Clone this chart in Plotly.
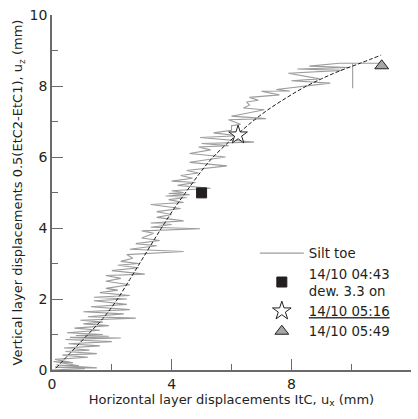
import plotly.graph_objects as go

# Silt toe measured path (horizontal ux, vertical uz), mm
silt_x = [0.00, 1.10, 0.10, 1.50, 0.15, 0.90, 0.05, 0.70, 0.10, 1.20, 0.35, 1.50, 0.45, 1.25, 0.40, 1.60,
          0.55, 2.00, 0.45, 2.30, 0.60, 1.90, 0.80, 1.70, 0.50, 1.60, 0.75, 1.90, 1.05, 1.70, 0.95, 2.80,
          1.20, 2.40, 1.05, 2.60, 1.30, 2.50, 1.40, 2.50, 1.40, 2.60, 1.60, 2.20, 1.80, 2.60, 1.80, 2.30,
          1.80, 3.10, 2.00, 2.90, 2.20, 2.90, 2.30, 2.70, 2.50, 4.40, 2.60, 3.50, 2.80, 3.60, 3.00, 3.40,
          3.00, 4.95, 3.30, 4.00, 3.30, 4.40, 3.50, 4.00, 3.50, 4.30, 3.30, 4.40, 3.90, 4.50, 3.80, 4.60,
          3.90, 4.40, 4.00, 5.30, 4.20, 4.80, 4.00, 4.70, 4.30, 4.90, 4.50, 5.85, 4.60, 5.80, 4.60, 5.30,
          4.90, 5.90, 5.00, 6.75, 4.95, 6.20, 5.40, 6.00, 6.00, 6.30, 5.90, 7.15, 6.00, 7.10, 6.40, 6.60,
          6.50, 6.90, 6.60, 7.60, 7.00, 7.95, 7.50, 9.30, 8.00, 8.95, 7.90, 9.70, 8.20, 9.95, 8.60, 9.60,
          10.05, 10.05, 10.05, 11.00]
silt_y = [0.00, 0.04, 0.08, 0.06, 0.14, 0.12, 0.24, 0.20, 0.30, 0.36, 0.42, 0.46, 0.52, 0.56, 0.62, 0.68,
          0.74, 0.80, 0.86, 0.90, 0.92, 0.95, 0.97, 1.00, 1.05, 1.12, 1.18, 1.25, 1.30, 1.35, 1.40, 1.46,
          1.50, 1.58, 1.64, 1.70, 1.78, 1.85, 1.95, 2.00, 2.05, 2.10, 2.18, 2.25, 2.30, 2.40, 2.50, 2.58,
          2.66, 2.70, 2.80, 2.88, 2.95, 3.00, 3.06, 3.15, 3.25, 3.34, 3.40, 3.50, 3.56, 3.65, 3.72, 3.85,
          3.92, 3.98, 4.02, 4.10, 4.14, 4.20, 4.30, 4.38, 4.46, 4.55, 4.66, 4.72, 4.80, 4.86, 4.90, 4.94,
          4.97, 5.00, 5.05, 5.12, 5.20, 5.28, 5.32, 5.40, 5.48, 5.55, 5.62, 5.75, 5.85, 6.00, 6.10, 6.20,
          6.28, 6.32, 6.38, 6.42, 6.55, 6.60, 6.68, 6.75, 6.88, 6.92, 7.05, 7.08, 7.15, 7.33, 7.38, 7.46,
          7.55, 7.60, 7.68, 7.75, 7.85, 7.86, 7.90, 8.08, 8.15, 8.20, 8.36, 8.44, 8.48, 8.52, 8.56, 8.64,
          8.64, 7.94, 8.64, 8.64]

# Trend curve (dashed)
fit_x = [0.13, 0.6, 1.2, 1.7, 2.15, 2.6, 3.0, 3.4, 3.75, 4.1, 4.45, 4.9, 5.3, 5.75, 6.2, 6.7, 7.2,
         7.8, 8.4, 9.0, 9.6, 10.3, 11.0]
fit_y = [0.05, 0.47, 1.0, 1.45, 1.95, 2.55, 3.1, 3.65, 4.12, 4.57, 4.98, 5.5, 5.92, 6.3, 6.64, 7.0,
         7.32, 7.65, 7.95, 8.2, 8.42, 8.64, 8.87]

# Event markers
ev_names = ["14/10 04:43<br>dew. 3.3 on", "<u>14/10 05:16</u>", "14/10 05:49"]
ev_x = [5.0, 6.22, 11.02]
ev_y = [4.99, 6.62, 8.57]

x_ticks = [0, 4, 8, 12]
y_ticks = [0, 2, 4, 6, 8, 10]

FONT = "DejaVu Sans"
DARK = "#231f20"
AXIS = "#6a6a6a"

fig = go.Figure()
fig.add_trace(go.Scatter(x=silt_x, y=silt_y, mode="lines", name="Silt toe",
                         line=dict(color="#9c9c9c", width=1.1), legendrank=1))
fig.add_trace(go.Scatter(x=fit_x, y=fit_y, mode="lines", showlegend=False, line_shape="spline",
                         line=dict(color="#1a1a1a", width=1, dash="4px,2px")))
fig.add_trace(go.Scatter(x=[ev_x[0]], y=[ev_y[0]], mode="markers", name=ev_names[0], legendrank=2,
                         marker=dict(symbol="square", size=10, color=DARK, line=dict(color=DARK, width=1))))
fig.add_trace(go.Scatter(x=[ev_x[1]], y=[ev_y[1]], mode="markers", name=ev_names[1], legendrank=3,
                         marker=dict(symbol="star", size=14, color="white", line=dict(color=DARK, width=1))))
fig.add_trace(go.Scatter(x=[ev_x[2]], y=[ev_y[2]], mode="markers", name=ev_names[2], legendrank=4,
                         marker=dict(symbol="triangle-up", size=12, color="#a6a6a6", line=dict(color=DARK, width=1))))

fig.update_layout(
    width=418, height=419,
    margin=dict(l=52, r=7, t=11, b=49),
    paper_bgcolor="white", plot_bgcolor="white",
    font=dict(family=FONT, size=13, color=DARK),
    legend=dict(x=0.565, y=0.372, xanchor="left", yanchor="top", bgcolor="rgba(0,0,0,0)",
                font=dict(size=13.3, color=DARK), itemwidth=44, tracegroupgap=0),
    xaxis=dict(range=[0, 12], tickvals=x_ticks, ticks="inside", ticklen=11, tickcolor=AXIS,
               showline=True, linecolor=AXIS, linewidth=1.5, showgrid=False, zeroline=False,
               tickfont=dict(size=14), minor=dict(dtick=2, ticks="inside", ticklen=6, tickcolor=AXIS),
               title=dict(text="Horizontal layer displacements ItC, u<sub>x</sub> (mm)",
                          font=dict(size=13), standoff=4)),
    yaxis=dict(range=[0, 10], tickvals=y_ticks, ticks="inside", ticklen=11, tickcolor=AXIS,
               showline=True, linecolor=AXIS, linewidth=1.5, showgrid=False, zeroline=False,
               tickfont=dict(size=14), minor=dict(dtick=1, ticks="inside", ticklen=6, tickcolor=AXIS),
               title=dict(text="Vertical layer displacements 0.5(EtC2-EtC1), u<sub>z</sub> (mm)",
                          font=dict(size=13), standoff=4)),
)

fig.write_html("out.html")
